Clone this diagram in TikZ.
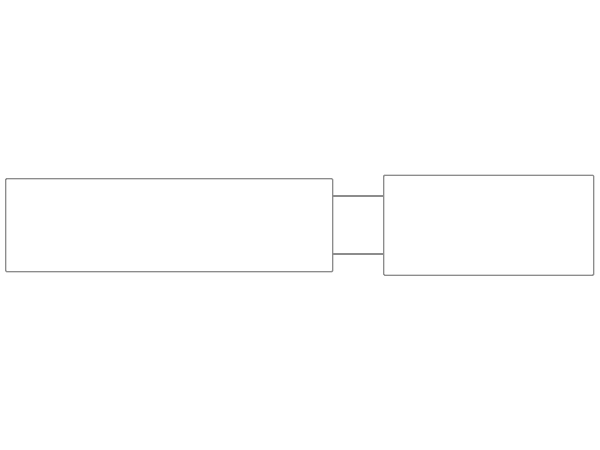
\documentclass[tikz,border=0pt]{standalone}
\begin{document}
\begin{tikzpicture}[x=1pt,y=-1pt,
  box/.style={draw=black!45, line width=1.4pt, rounded corners=1pt, inner sep=0pt, minimum width=#1},
  link/.style={draw=black!45, line width=1.4pt}]
\useasboundingbox (0,0) rectangle (600,450);
\node[box=327pt, minimum height=93pt, anchor=north west] (left) at (5,178) {};
\node[box=210pt, minimum height=100pt, anchor=north west] (right) at (383,174.5) {};
\draw[link] (left.east |- 0,196) -- (right.west |- 0,196);
\draw[link] (left.east |- 0,254) -- (right.west |- 0,254);
\end{tikzpicture}
\end{document}
